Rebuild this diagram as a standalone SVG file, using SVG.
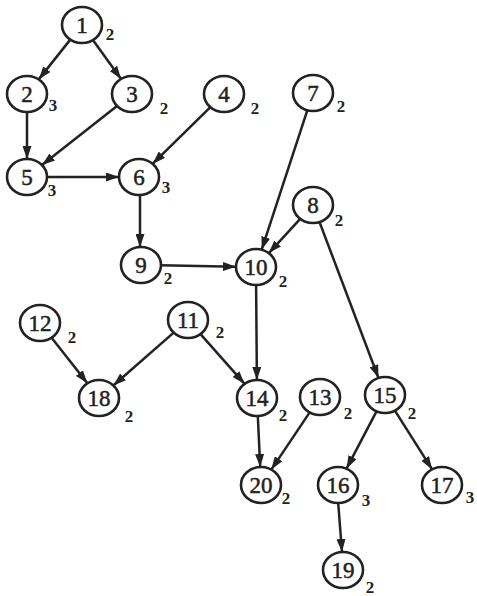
<svg xmlns="http://www.w3.org/2000/svg" width="477" height="596" viewBox="0 0 477 596">
<defs>
<marker id="ah" viewBox="0 0 13 9" refX="13" refY="4.5" markerWidth="13" markerHeight="9" markerUnits="userSpaceOnUse" orient="auto">
<path d="M0,0 L13,4.5 L0,9 Z" fill="#222"/>
</marker>
<style>
.n ellipse{fill:#fff;stroke:#222;stroke-width:2.6}
.n text{font-family:"Liberation Serif","Times New Roman",serif;fill:#222}
.lbl{font-size:23px;text-anchor:middle;stroke:#222;stroke-width:0.5}
.sub{font-size:17px;font-weight:bold;text-anchor:middle}
#edges line{stroke:#222;stroke-width:2.5;marker-end:url(#ah)}
</style>
</defs>
<rect width="477" height="596" fill="#fff"/>
<g id="edges">
<line x1="70.3" y1="39.6" x2="38.7" y2="79.4"/>
<line x1="92.9" y1="40.1" x2="121.1" y2="78.9"/>
<line x1="27" y1="112" x2="27" y2="159"/>
<line x1="117" y1="105.9" x2="42" y2="165.1"/>
<line x1="210.4" y1="107.2" x2="152.6" y2="163.8"/>
<line x1="47" y1="177" x2="119" y2="177"/>
<line x1="140" y1="195" x2="140" y2="247"/>
<line x1="160" y1="265.3" x2="236" y2="266.7"/>
<line x1="307.3" y1="110.3" x2="261.7" y2="249.7"/>
<line x1="300.2" y1="218.9" x2="268.8" y2="253.1"/>
<line x1="319.5" y1="222" x2="378.5" y2="378"/>
<line x1="256.1" y1="285" x2="256.9" y2="380"/>
<line x1="173.7" y1="332.6" x2="113.3" y2="385.5"/>
<line x1="51.6" y1="337.7" x2="87.4" y2="383.3"/>
<line x1="200.5" y1="334.1" x2="244.6" y2="383.9"/>
<line x1="257.8" y1="416" x2="260.2" y2="467"/>
<line x1="309.7" y1="412.4" x2="271.3" y2="469.6"/>
<line x1="376.5" y1="411.3" x2="346.5" y2="468.7"/>
<line x1="394.9" y1="410.6" x2="432.1" y2="469.4"/>
<line x1="338.2" y1="503" x2="342" y2="552"/>
</g>
<g id="n1" class="n"><ellipse cx="82" cy="25" rx="20" ry="18"/><text class="lbl" x="82" y="33">1</text><text class="sub" x="110" y="40">2</text></g>
<g id="n2" class="n"><ellipse cx="27" cy="94" rx="20" ry="18"/><text class="lbl" x="27" y="102">2</text><text class="sub" x="53" y="111">3</text></g>
<g id="n3" class="n"><ellipse cx="132" cy="94" rx="20" ry="18"/><text class="lbl" x="132" y="102">3</text><text class="sub" x="164" y="114">2</text></g>
<g id="n4" class="n"><ellipse cx="224" cy="94" rx="20" ry="18"/><text class="lbl" x="224" y="102">4</text><text class="sub" x="255" y="114">2</text></g>
<g id="n5" class="n"><ellipse cx="27" cy="177" rx="20" ry="18"/><text class="lbl" x="27" y="185">5</text><text class="sub" x="52" y="196">3</text></g>
<g id="n6" class="n"><ellipse cx="139" cy="177" rx="20" ry="18"/><text class="lbl" x="139" y="185">6</text><text class="sub" x="166" y="193">3</text></g>
<g id="n7" class="n"><ellipse cx="313" cy="93" rx="20" ry="18"/><text class="lbl" x="313" y="101">7</text><text class="sub" x="341" y="112">2</text></g>
<g id="n8" class="n"><ellipse cx="313" cy="205" rx="20" ry="18"/><text class="lbl" x="313" y="213">8</text><text class="sub" x="339" y="226">2</text></g>
<g id="n9" class="n"><ellipse cx="141" cy="265" rx="20" ry="18"/><text class="lbl" x="141" y="273">9</text><text class="sub" x="168" y="284">2</text></g>
<g id="n10" class="n"><ellipse cx="256" cy="267" rx="20" ry="18"/><text class="lbl" x="256" y="275">10</text><text class="sub" x="283" y="287">2</text></g>
<g id="n11" class="n"><ellipse cx="188" cy="320" rx="20" ry="18"/><text class="lbl" x="188" y="328">11</text><text class="sub" x="220" y="338">2</text></g>
<g id="n12" class="n"><ellipse cx="40" cy="323" rx="20" ry="18"/><text class="lbl" x="40" y="331">12</text><text class="sub" x="72" y="343">2</text></g>
<g id="n13" class="n"><ellipse cx="320" cy="397" rx="20" ry="18"/><text class="lbl" x="320" y="405">13</text><text class="sub" x="348" y="419">2</text></g>
<g id="n14" class="n"><ellipse cx="257" cy="398" rx="20" ry="18"/><text class="lbl" x="257" y="406">14</text><text class="sub" x="283" y="421">2</text></g>
<g id="n15" class="n"><ellipse cx="385" cy="395" rx="20" ry="18"/><text class="lbl" x="385" y="403">15</text><text class="sub" x="412" y="419">2</text></g>
<g id="n16" class="n"><ellipse cx="338" cy="485" rx="20" ry="18"/><text class="lbl" x="338" y="493">16</text><text class="sub" x="366" y="506">3</text></g>
<g id="n17" class="n"><ellipse cx="442" cy="485" rx="20" ry="18"/><text class="lbl" x="442" y="493">17</text><text class="sub" x="470" y="503">3</text></g>
<g id="n18" class="n"><ellipse cx="99" cy="398" rx="20" ry="18"/><text class="lbl" x="99" y="406">18</text><text class="sub" x="129" y="422">2</text></g>
<g id="n19" class="n"><ellipse cx="343" cy="570" rx="20" ry="18"/><text class="lbl" x="343" y="578">19</text><text class="sub" x="370" y="593">2</text></g>
<g id="n20" class="n"><ellipse cx="261" cy="485" rx="20" ry="18"/><text class="lbl" x="261" y="493">20</text><text class="sub" x="286" y="504">2</text></g>
</svg>
